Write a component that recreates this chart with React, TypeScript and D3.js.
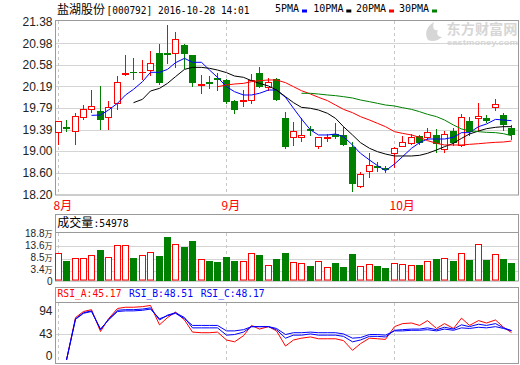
import React from "react";
import * as d3 from "d3";

const dates = [
  "2016-08-04","2016-08-05","2016-08-08","2016-08-09","2016-08-10","2016-08-11","2016-08-12","2016-08-15","2016-08-16","2016-08-17",
  "2016-08-18","2016-08-19","2016-08-22","2016-08-23","2016-08-24","2016-08-25","2016-08-26","2016-08-29","2016-08-30","2016-08-31",
  "2016-09-01","2016-09-02","2016-09-05","2016-09-06","2016-09-07","2016-09-08","2016-09-09","2016-09-12","2016-09-13","2016-09-14",
  "2016-09-19","2016-09-20","2016-09-21","2016-09-22","2016-09-23","2016-09-26","2016-09-27","2016-09-28","2016-09-29","2016-09-30",
  "2016-10-10","2016-10-11","2016-10-12","2016-10-13","2016-10-14","2016-10-17","2016-10-18","2016-10-19","2016-10-20","2016-10-21",
  "2016-10-24","2016-10-25","2016-10-26","2016-10-27","2016-10-28",
];
const openP = [19.35,19.44,19.36,19.62,19.77,19.74,19.62,19.88,20.42,20.46,20.45,20.48,20.81,20.80,20.80,20.95,20.76,20.22,20.27,20.34,
  20.31,19.92,19.91,19.93,20.44,20.18,20.32,19.60,19.26,19.25,19.40,19.10,19.24,19.32,19.29,19.08,18.36,18.64,18.72,18.68,
  18.96,19.10,19.14,19.28,19.26,19.29,19.03,19.36,19.11,19.56,19.60,19.61,19.80,19.67,19.42];
const highP = [19.56,19.57,19.70,19.85,20.12,20.19,19.92,20.38,20.76,20.70,20.67,20.84,20.97,21.32,21.18,20.96,20.77,20.40,20.37,20.43,
  20.32,19.94,20.13,20.42,20.55,20.35,20.35,19.72,19.54,19.60,19.46,19.26,19.31,19.51,19.44,19.17,18.62,18.96,18.79,18.73,
  19.08,19.28,19.32,19.29,19.43,19.40,19.36,19.42,19.68,19.62,19.88,19.66,19.95,19.69,19.47];
const lowP = [19.12,19.36,19.12,19.58,19.72,19.41,19.40,19.77,20.40,20.32,20.32,20.40,20.23,20.61,20.55,20.52,20.20,20.07,20.16,20.12,
  19.89,19.70,19.82,19.88,20.18,20.12,19.94,19.06,19.11,19.19,19.29,19.05,19.19,19.23,19.11,18.27,18.34,18.53,18.64,18.62,
  18.71,19.10,19.13,19.13,19.22,18.99,18.99,19.11,19.10,19.29,19.36,19.54,19.75,19.39,19.22];
const closeP = [19.55,19.43,19.65,19.77,19.83,19.59,19.80,20.27,20.43,20.45,20.46,20.61,20.26,20.79,21.05,20.80,20.26,20.23,20.25,20.32,
  19.91,19.78,19.93,20.31,20.19,20.26,19.96,19.09,19.37,19.29,19.39,19.25,19.25,19.28,19.13,18.41,18.58,18.75,18.71,18.66,
  19.05,19.16,19.25,19.17,19.34,19.14,19.32,19.17,19.63,19.37,19.65,19.57,19.86,19.49,19.32];
const volume = [10.65,7.64,8.69,8.69,9.87,11.95,9.09,13.8,13.8,8.81,9.87,11.04,9.6,17.04,14.18,13.0,15.47,8.3,7.64,7.25,
  9.09,7.64,7.52,10.65,9.99,5.95,8.42,10.77,7.25,6.73,5.68,7.64,5.17,6.85,5.29,10.38,5.56,6.46,5.68,4.9,
  6.85,6.46,5.95,6.07,7.64,8.42,8.81,7.64,10.77,8.03,14.3,8.03,10.38,8.42,6.85];

const ma5 = [null,null,null,null,19.655,19.661,19.753,19.876,20.029,20.133,20.274,20.446,20.446,20.5,20.623,20.703,20.63,20.63,20.488,20.354,
  20.182,20.09,20.029,20.029,20.06,20.121,20.121,19.986,19.784,19.588,19.386,19.294,19.294,19.312,19.263,19.11,18.957,18.834,18.73,18.638,
  18.76,18.895,19.049,19.153,19.22,19.22,19.22,19.251,19.337,19.337,19.447,19.496,19.581,19.569,19.557];
const ma10 = [null,null,null,null,null,null,null,null,null,19.888,19.95,20.102,20.151,20.243,20.366,20.5,20.537,20.537,20.519,20.488,
  20.44,20.378,20.354,20.292,20.243,20.194,20.121,19.998,19.888,19.802,19.784,19.753,19.692,19.6,19.447,19.294,19.153,19.049,18.987,18.944,
  18.908,18.908,18.908,18.92,18.957,19.018,19.079,19.141,19.232,19.312,19.367,19.41,19.435,19.447,19.447];
const ma20 = [null,null,null,null,null,null,null,null,null,null,null,null,null,null,null,null,null,null,null,20.182,
  20.213,20.231,20.243,20.274,20.292,20.305,20.305,20.256,20.182,20.108,20.047,19.986,19.925,19.845,19.765,19.704,19.631,19.569,19.508,19.447,
  19.355,19.324,19.294,19.251,19.19,19.141,19.11,19.11,19.11,19.122,19.134,19.147,19.159,19.165,19.183];
const ma30 = [null,null,null,null,null,null,null,null,null,null,null,null,null,null,null,null,null,null,null,null,
  null,null,null,null,null,null,null,null,null,20.06,20.06,20.047,20.029,20.017,19.998,19.974,19.937,19.906,19.876,19.845,
  19.827,19.796,19.765,19.723,19.674,19.631,19.569,19.477,19.404,19.373,19.355,19.343,19.337,19.318,19.281];

const rsiA = [null,0,70,80,83,47,68,85,87,87,88,90,58,70,79,66,46,45,45,46,33,30,40,57,51,55,48,23,33,36,38,35,35,35,32,16,27,36,35,34,55,60,61,57,65,52,60,52,69,57,65,61,66,54,45.17];
const rsiB = [null,0,68,78,81,50,67,82,83,83,84,86,66,74,78,70,53,53,53,53,41,42,46,55,55,55,50,36,41,41,43,41,41,41,39,30,33,39,39,38,49,50,51,51,53,50,54,51,58,55,59,57,60,53,48.51];
const rsiC = [null,0,67,77,80,51,66,80,81,81,82,84,68,73,77,68,57,57,57,57,48,48,50,55,55,55,52,42,45,45,46,45,45,45,43,36,37,42,42,41,48,48,49,49,50,48,51,49,53,52,54,53,55,52,48.17];

const priceTicks = [21.38, 20.98, 20.58, 20.19, 19.79, 19.39, 19.0, 18.6, 18.2];
const priceTickLabels = ["21.38", "20.98", "20.58", "20.19", "19.79", "19.39", "19.00", "18.60", "18.20"];
const volTicks = [18.8, 13.6, 8.5, 3.4, 0];
const volTickLabels = ["18.8", "13.6", "8.5", "3.4", "0"];
const rsiTicks = [94, 43, 0];
const maNames = ["5PMA", "10PMA", "20PMA", "30PMA"];
const maColors = ["#0000ff", "#000000", "#ff0000", "#008000"];
const rsiNames = ["RSI_A", "RSI_B", "RSI_C"];
const rsiColors = ["#ff0000", "#0000ff", "#0000ff"];

const NUM = "'Liberation Sans', Arial, sans-serif";
const CJK = "'Noto Sans CJK SC', sans-serif";
const MONO = "'DejaVu Sans Mono', monospace";
const RED = "#ff0000";
const GREEN = "#008000";
const BORDER = "#9a9a9a";
const GRID = "#d4d4d4";

export default function App() {
  const L = 55.5, R = 518.5;
  const x = d3.scaleBand<string>().domain(dates).range([54.1, 516.1]).padding(0);
  const cx = (i: number) => Math.floor((x(dates[i]) as number) + x.bandwidth() / 2) + 0.5;
  const yP = d3.scaleLinear().domain([18.2, 21.38]).range([194.5, 21.5]);
  const yV = d3.scaleLinear().domain([0, 18.8]).range([280, 232.5]);
  const yR = d3.scaleLinear().domain([0, 94]).range([360, 303]);

  const monthStarts: number[] = [];
  dates.forEach((d, i) => {
    if (i === 0 || d.slice(5, 7) !== dates[i - 1].slice(5, 7)) monthStarts.push(i);
  });

  const mkLine = (scale: d3.ScaleLinear<number, number>) =>
    d3.line<number | null>()
      .defined((v) => v !== null)
      .x((_, i) => cx(i))
      .y((v) => scale(v as number));

  const priceLine = mkLine(yP);
  const rsiLine = mkLine(yR);
  const snap = (v: number) => Math.round(v) + 0.5;

  const candles = dates.map((d, i) => {
    const o = openP[i], c = closeP[i], h = highP[i], l = lowP[i];
    const up = c >= o;
    const col = up ? RED : GREEN;
    const X = cx(i);
    const top = Math.round(yP(Math.max(o, c)));
    const bot = Math.round(yP(Math.min(o, c)));
    const yh = Math.round(yP(h));
    const yl = Math.round(yP(l));
    const els: any[] = [];
    if (bot - top < 1) {
      els.push(<line key="w" x1={X} x2={X} y1={yh} y2={yl + 1} stroke={col} />);
      els.push(<line key="b" x1={X - 3.5} x2={X + 3.5} y1={top + 0.5} y2={top + 0.5} stroke={col} />);
    } else if (up) {
      if (yh < top) els.push(<line key="wh" x1={X} x2={X} y1={yh} y2={top} stroke={col} />);
      if (yl > bot) els.push(<line key="wl" x1={X} x2={X} y1={bot + 1} y2={yl + 1} stroke={col} />);
      els.push(<rect key="b" x={X - 3} y={top + 0.5} width={6} height={bot - top} fill="#fff" stroke={col} />);
    } else {
      els.push(<line key="w" x1={X} x2={X} y1={yh} y2={yl + 1} stroke={col} />);
      els.push(<rect key="b" x={X - 3.5} y={top} width={7} height={bot - top + 1} fill={col} />);
    }
    return <g key={d}>{els}</g>;
  });

  const volBars = dates.map((d, i) => {
    const up = closeP[i] >= openP[i];
    const X = cx(i);
    const t = Math.round(yV(volume[i]));
    return up ? (
      <rect key={d} x={X - 3} y={t + 0.5} width={6} height={279.5 - t} fill="#fff" stroke={RED} />
    ) : (
      <rect key={d} x={X - 3.5} y={t} width={7} height={281 - t} fill={GREEN} />
    );
  });

  const maSeries = [ma5, ma10, ma20, ma30];
  const rsiSeries = [rsiA, rsiB, rsiC];
  const legendX = [275, 313.3, 356, 399];
  const rsiHeadX = [57.5, 129, 200.7];
  const rsiLast = rsiSeries.map((s) => (s[s.length - 1] as number).toFixed(2));

  const vDash = (y1: number, y2: number, k: string) =>
    monthStarts.map((i) => (
      <line key={k + i} x1={cx(i)} x2={cx(i)} y1={y1} y2={y2} stroke="#c8c8c8" strokeDasharray="3,3" />
    ));

  return (
    <svg width={520} height={365} style={{ position: "absolute", left: 0, top: 0, background: "#fff" }}>
      <rect x={0} y={0} width={520} height={365} fill="#fff" />

      {/* watermark */}
      <g>
        <path d="M428,40 C424,33 427,26 434,22 C432,28 434,31 438,30 C436,34 438,37 442,37 C438,41 432,42 428,40 Z" fill="#d6d6d6" />
        <text x={446.5} y={34} fontFamily={CJK} fontWeight="bold" fontSize={13.5} fill="#d6d6d6" textLength={71} lengthAdjust="spacingAndGlyphs">东方财富网</text>
        <text x={447} y={44.5} fontFamily={NUM} fontWeight="bold" fontSize={7} fill="#d6d6d6" textLength={71} lengthAdjust="spacingAndGlyphs">eastmoney.com</text>
      </g>

      {/* header */}
      <text x={57} y={14} fontFamily={CJK} fontSize={12} fill="#000">盐湖股份</text>
      <text x={106.5} y={14} fontFamily={MONO} fontSize={11} fill="#000" textLength={143} lengthAdjust="spacingAndGlyphs">[000792] 2016-10-28 14:01</text>
      {maNames.map((n, k) => (
        <g key={n}>
          <text x={legendX[k]} y={12.3} fontFamily={MONO} fontSize={10} fill="#000">{n}</text>
          <rect x={legendX[k] + n.length * 6 + 3} y={9.5} width={5} height={3} fill={maColors[k]} />
        </g>
      ))}

      {/* main panel */}
      {priceTicks.slice(1, -1).map((v) => (
        <line key={v} x1={L} x2={R} y1={snap(yP(v))} y2={snap(yP(v))} stroke={GRID} />
      ))}
      {vDash(21, 194, "m")}
      <rect x={L} y={20.5} width={R - L} height={174.5} fill="none" stroke={BORDER} />
      {priceTicks.map((v, k) => (
        <text key={v} x={52.5} y={yP(v) + 4.3} textAnchor="end" fontFamily={NUM} fontSize={12} fill="#222">{priceTickLabels[k]}</text>
      ))}
      {candles}
      {maSeries.map((s, k) => (
        <path key={k} d={priceLine(s) as string} fill="none" stroke={maColors[k]} strokeWidth={1} />
      ))}

      {/* month labels */}
      {monthStarts.map((i) => (
        <text key={"ml" + i} x={cx(i) - 5} y={210} fontFamily={CJK} fontSize={12} fill={RED}>
          {String(+dates[i].slice(5, 7)) + "月"}
        </text>
      ))}

      {/* volume panel */}
      {volTicks.slice(1, -1).map((v) => (
        <line key={v} x1={L} x2={R} y1={snap(yV(v))} y2={snap(yV(v))} stroke={GRID} />
      ))}
      {vDash(233, 280, "v")}
      <rect x={L} y={214.5} width={R - L} height={66.5} fill="none" stroke={BORDER} />
      <line x1={L} x2={R} y1={232.5} y2={232.5} stroke={BORDER} />
      <text x={57.3} y={227.3} fontFamily={CJK} fontSize={12} fill="#000">成交量</text>
      <text x={93.5} y={227.3} fontFamily={MONO} fontSize={11} fill="#000" textLength={35} lengthAdjust="spacingAndGlyphs">:54978</text>
      {volTicks.map((v, k) => {
        const yc = 233.4 + k * 11.9;
        return v === 0 ? (
          <text key={v} x={52.5} y={yc + 3.6} textAnchor="end" fontFamily={NUM} fontSize={10} fill="#222">{volTickLabels[k]}</text>
        ) : (
          <text key={v} x={52.5} y={yc + 3.6} textAnchor="end" fontFamily={NUM} fontSize={10} fill="#222">
            {volTickLabels[k]}
            <tspan fontFamily={CJK} fontSize={8}>万</tspan>
          </text>
        );
      })}
      {volBars}

      {/* RSI panel */}
      <line x1={L} x2={R} y1={snap(yR(43))} y2={snap(yR(43))} stroke={GRID} />
      {vDash(303, 363, "r")}
      <rect x={L} y={287.5} width={R - L} height={76} fill="none" stroke={BORDER} />
      <line x1={L} x2={R} y1={302.5} y2={302.5} stroke={BORDER} />
      {rsiNames.map((n, k) => (
        <text key={n} x={rsiHeadX[k]} y={297.3} fontFamily={MONO} fontSize={10} fill={rsiColors[k]} textLength={64} lengthAdjust="spacingAndGlyphs">{n + ":" + rsiLast[k]}</text>
      ))}
      {rsiTicks.map((v) => (
        <text key={v} x={52.5} y={Math.min(Math.max(yR(v), 310.7), 356) + 4.3} textAnchor="end" fontFamily={NUM} fontSize={12} fill="#222">{v}</text>
      ))}
      {rsiSeries.map((s, k) => (
        <path key={k} d={rsiLine(s) as string} fill="none" stroke={rsiColors[k]} strokeWidth={1} />
      ))}
    </svg>
  );
}
